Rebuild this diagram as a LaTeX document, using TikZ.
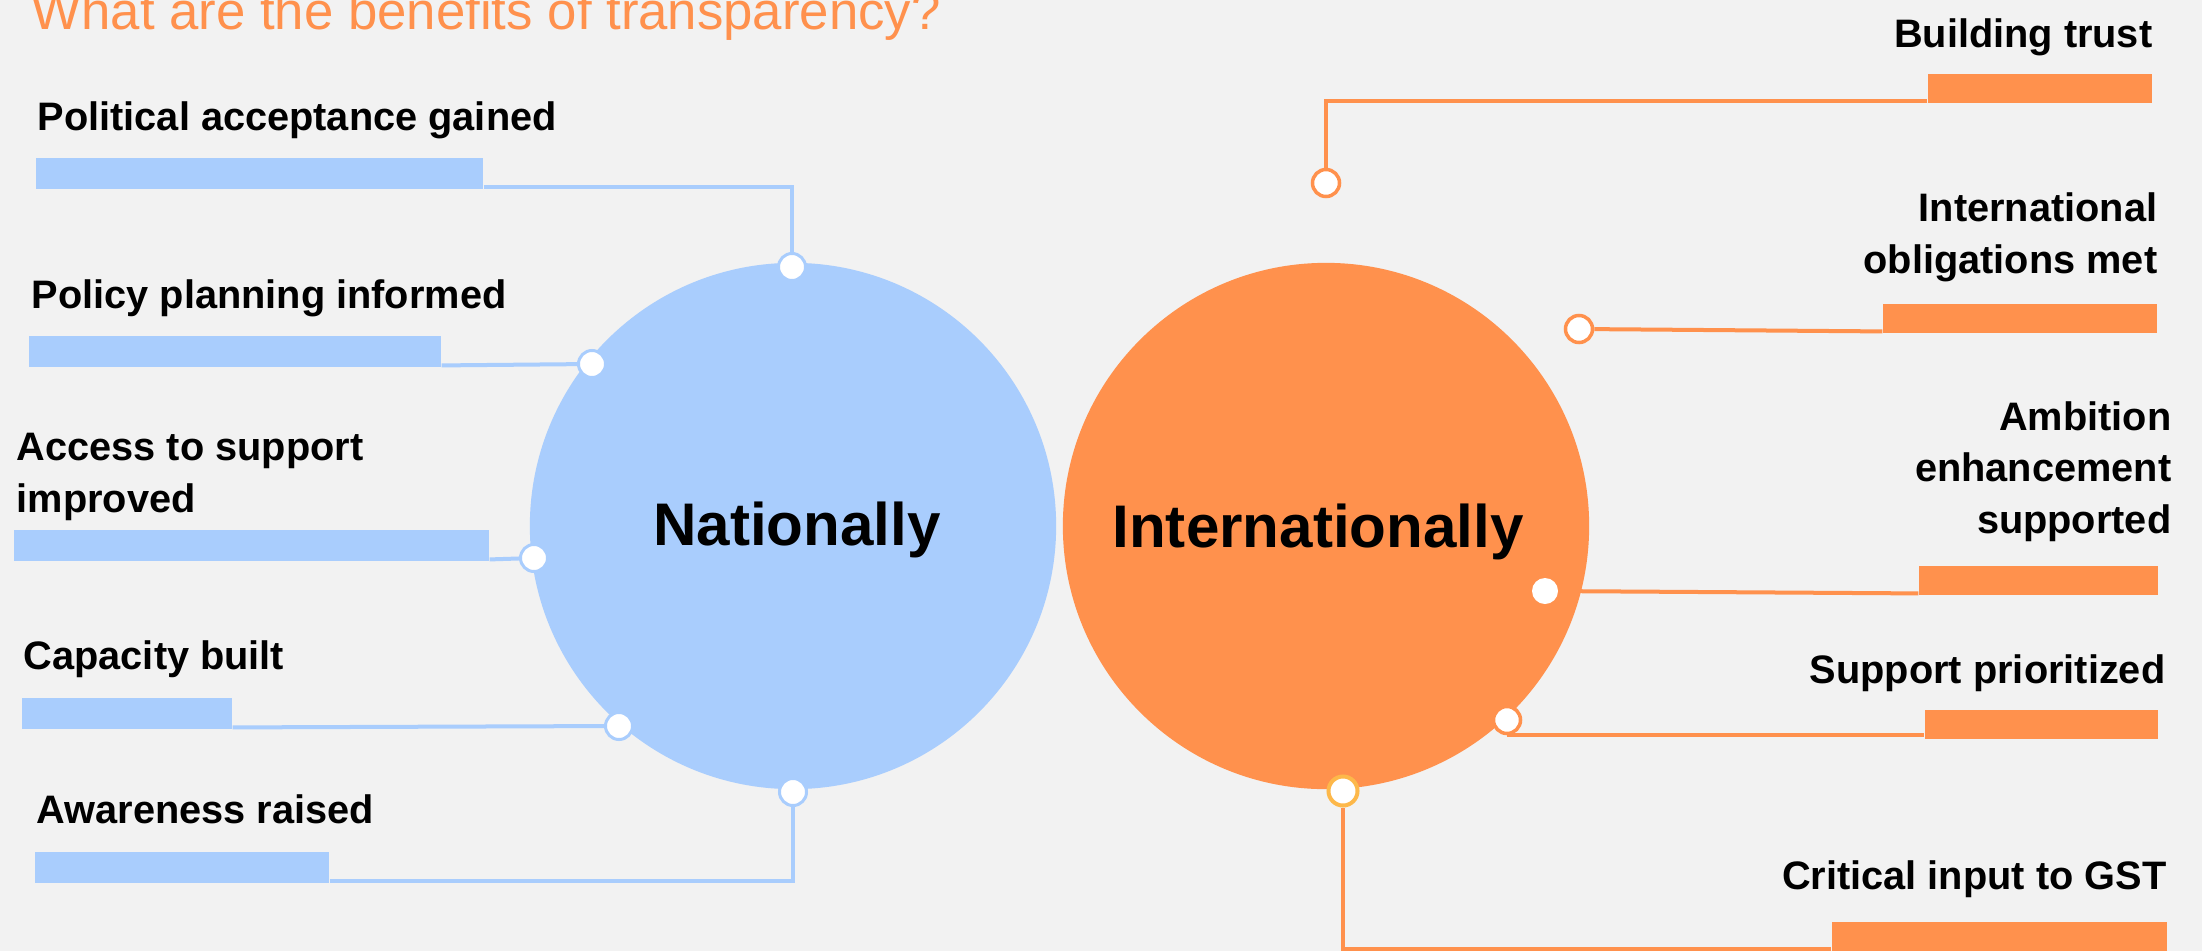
\documentclass[tikz,border=0pt]{standalone}
\usepackage{fontspec}
\setmainfont{Liberation Sans}

\begin{document}
\begin{tikzpicture}[x=0.01cm,y=-0.01cm,
		benefit/.style={font=\fontsize{11.3}{14.6}\selectfont\bfseries,inner sep=0pt},
		bigword/.style={font=\fontsize{17.1}{20}\selectfont\bfseries,inner sep=0pt,anchor=base},
		bluebar/.style={fill=natblue,inner sep=0pt,minimum height=0.31cm,anchor=north west},
		orangebar/.style={fill=intorange,inner sep=0pt,minimum height=0.29cm,anchor=north east},
		blueline/.style={draw=natblue,line width=0.04cm},
		orangeline/.style={draw=intorange,line width=0.04cm},
		bluedot/.style={circle,draw=natblue,fill=white,line width=0.03cm,minimum size=0.27cm,inner sep=0pt},
		orangedot/.style={circle,draw=intorange,fill=white,line width=0.035cm,minimum size=0.27cm,inner sep=0pt}]
			\definecolor{natblue}{HTML}{A9CDFD}
			\definecolor{intorange}{HTML}{FF914D}
			\definecolor{gstyellow}{HTML}{FDB84A}
			\definecolor{paper}{HTML}{F2F2F2}
			\clip (0,0) rectangle (2202,951);
			\fill[paper] (0,0) rectangle (2202,951);
			% title
			\node[anchor=base west,inner sep=0pt,font=\fontsize{15}{18}\selectfont,text=intorange] (title) at (31,29) {What are the benefits of transparency?};
			% circles
			\node[circle,fill=natblue,minimum size=5.26cm,inner sep=0pt] (nat) at (793,526) {};
			\node[circle,fill=intorange,minimum size=5.26cm,inner sep=0pt] (inter) at (1326,526) {};
			\node[bigword] (natlbl) at (797,545) {Nationally};
			\node[bigword] (interlbl) at (1318,547) {Internationally};
			
			% nationally
			\node[benefit,anchor=base west] (t1) at (37,130) {Political acceptance gained};
			\node[benefit,anchor=base west] (t2) at (31,308) {Policy planning informed};
			\node[benefit,anchor=base west,align=left] (t3) at (16,512) {Access to support\\improved};
			\node[benefit,anchor=base west] (t4) at (23,669) {Capacity built};
			\node[benefit,anchor=base west] (t5) at (36,823) {Awareness raised};
			\node[bluebar,minimum width=4.47cm] (b1) at (35,157) {};
			\node[bluebar,minimum width=4.12cm] (b2) at (28,335) {};
			\node[bluebar,minimum width=4.75cm] (b3) at (13,529) {};
			\node[bluebar,minimum width=2.10cm] (b4) at (21,697) {};
			\node[bluebar,minimum width=2.94cm] (b5) at (34,851) {};
			\node[bluedot] (d1) at (792,267) {};
			\node[bluedot] (d2) at (592,364) {};
			\node[bluedot] (d3) at (534,558) {};
			\node[bluedot] (d4) at (619,726) {};
			\node[bluedot] (d5) at (793,792) {};
			\draw[blueline] ([yshift=0.02cm]b1.south east) -| (d1);
			\draw[blueline] ([yshift=0.02cm]b2.south east) -- (d2);
			\draw[blueline] ([yshift=0.02cm]b3.south east) -- (d3);
			\draw[blueline] ([yshift=0.02cm]b4.south east) -- (d4);
			\draw[blueline] ([yshift=0.02cm]b5.south east) -| (d5);
			
			% internationally
			\node[benefit,anchor=base east] (t6) at (2153,47) {Building trust};
			\node[benefit,anchor=base east,align=right] (t7) at (2158,273) {International\\obligations met};
			\node[benefit,anchor=base east,align=right] (t8) at (2172,533) {Ambition\\enhancement\\supported};
			\node[benefit,anchor=base east] (t9) at (2166,683) {Support prioritized};
			\node[benefit,anchor=base east] (t10) at (2167,889) {Critical input to GST};
			\node[orangebar,minimum width=2.24cm] (b6) at (2153,73) {};
			\node[orangebar,minimum width=2.74cm] (b7) at (2158,303) {};
			\node[orangebar,minimum width=2.39cm] (b8) at (2159,565) {};
			\node[orangebar,minimum width=2.33cm] (b9) at (2159,709) {};
			\node[orangebar,minimum width=3.35cm] (b10) at (2168,921) {};
			\node[orangedot] (d6) at (1326,183) {};
			\node[orangedot] (d7) at (1579,329) {};
			\node[circle,fill=white,minimum size=0.26cm,inner sep=0pt] (d8) at (1545,591) {};
			\node[orangedot] (d9) at (1507,720) {};
			\node[orangedot,draw=gstyellow,line width=0.04cm,minimum size=0.29cm] (d10) at (1343,791) {};
			\draw[orangeline] ([yshift=0.02cm]b6.south west) -| (d6);
			\draw[orangeline] ([yshift=0.02cm]b7.south west) -- (d7);
			\draw[orangeline] ([yshift=0.02cm]b8.south west) -- (d8);
			\draw[orangeline] (d9.south) -- (d9.south -| b9.west);
			\draw[orangeline] ([yshift=0.02cm]b10.south west) -| (d10);
			
\end{tikzpicture}
\end{document}
